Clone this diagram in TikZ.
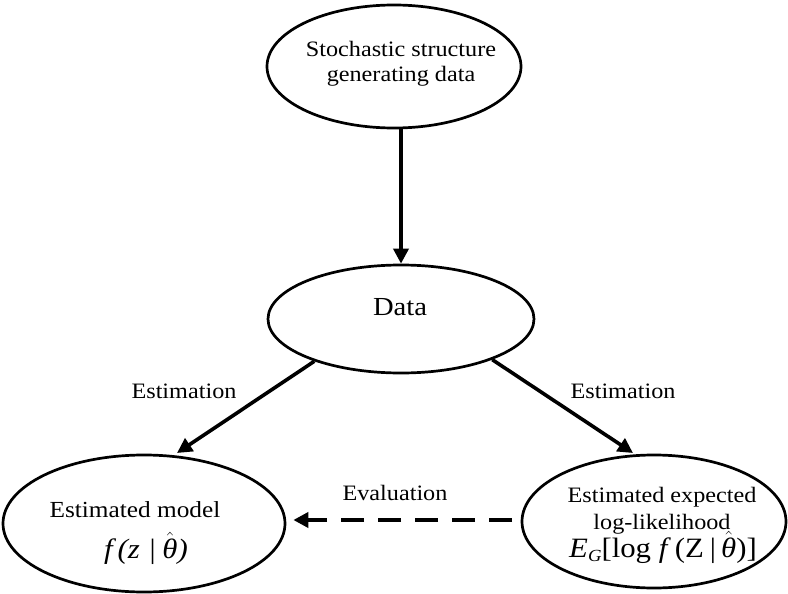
\documentclass[tikz,border=0pt]{standalone}
\usepackage{fontspec}
\setmainfont[FakeStretch=1.1]{Liberation Serif}
\usetikzlibrary{shapes.geometric,arrows.meta}
\newcommand{\thetahat}{$\hat{\mbox{\itshape θ}}$}
\begin{document}
\begin{tikzpicture}[x=1pt,y=-1pt,
  ell/.style={draw,ellipse,line width=2.7pt,inner sep=0pt},
  txt/.style={inner sep=0pt,align=center,anchor=base},
  arr/.style={line width=3.6pt,-{Triangle[length=15pt,width=15pt]}},
  lbl/.style={inner sep=0pt,anchor=base,font=\fontsize{22}{26}\selectfont}]
\useasboundingbox (0,0) rectangle (788,594);
% ellipses
\node[ell,minimum width=254pt,minimum height=123pt] (top) at (394,66.5) {};
\node[ell,minimum width=266pt,minimum height=108pt] (data) at (401,319) {};
\node[ell,minimum width=282pt,minimum height=137pt] (model) at (144,523.5) {};
\node[ell,minimum width=264pt,minimum height=133pt] (ell2) at (654,521.5) {};
% texts
\node[txt,font=\fontsize{22}{25}\selectfont] (toptxt) at (401,82) {Stochastic structure\\generating data};
\node[txt,font=\fontsize{26}{30}\selectfont] (datatxt) at (400,315) {Data};
\node[txt,font=\fontsize{23}{26}\selectfont] (modeltxt) at (135,517) {Estimated model};
\node[txt,font=\fontsize{28}{30}\selectfont] (modelmath) at (146,558) {\itshape f\hspace{5pt}(z\hspace{8pt}|\hspace{6pt}\thetahat)};
\node[txt,font=\fontsize{22}{26.5}\selectfont] (e2txt) at (662,529) {Estimated expected\\log-likelihood};
\node[txt,font=\fontsize{28}{30}\selectfont] (e2math) at (663,557) {\textit{E}\raisebox{-4pt}{\fontsize{17}{18}\selectfont\textit{G}}[log \textit{f}\hspace{4pt}(Z\hspace{6pt}|\hspace{5pt}\thetahat)]};
% arrows
\draw[arr] (top.south -| data.north) -- (data.north);
\coordinate (lt) at (177,453);
\coordinate (rt) at (633,453);
\draw[arr] (data.-154) -- (lt);
\draw[arr] (data.-24) -- (rt);
\coordinate (ds) at (512,520);
\draw[line width=4.4pt,dash pattern=on 23pt off 14pt,-{Triangle[length=15pt,width=15pt]},shorten >=7pt] (ds) -- (ds -| model.east);
% labels
\node[lbl] (l1) at (184,398) {Estimation};
\node[lbl] (l2) at (623,398) {Estimation};
\node[lbl] (l3) at (395,500) {Evaluation};
\end{tikzpicture}
\end{document}
